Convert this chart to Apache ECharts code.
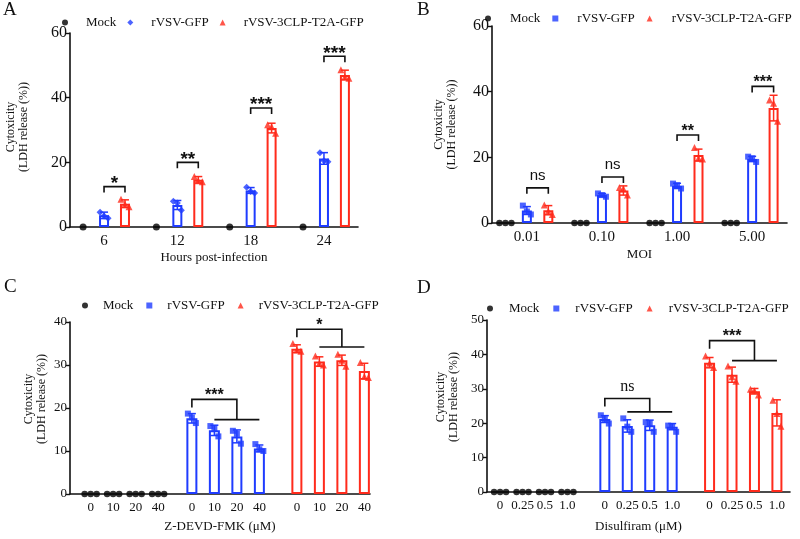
<!DOCTYPE html>
<html>
<head>
<meta charset="utf-8">
<script src="https://cdn.jsdelivr.net/npm/echarts@6/dist/echarts.min.js"></script>
<style>
  html, body { margin: 0; background: #fff; }
  #chart { width: 800px; height: 539px; }
</style>
</head>
<body>
<div id="chart"></div>
<script>
  var BLUE = '#1f3cff', RED = '#ff2b1c';
  var SERIF = '"Liberation Serif", "Times New Roman", serif';
  var SANS = '"Liberation Sans", Arial, sans-serif';

  // A: hours post-infection
  var aHours = ['6', '12', '18', '24'];
  var aMockReps = [[0], [0], [0], [0]];
  var aGfpMean = [3.6, 6.8, 11.3, 21.2];
  var aGfpSd = [1.0, 1.4, 0.9, 1.8];
  var aGfpReps = [[4.6, 2.7, 3.4], [8.0, 5.2, 7.4], [12.3, 10.5, 11.0], [23.0, 20.2, 20.5]];
  var aClpMean = [7.2, 14.6, 30.6, 47.0];
  var aClpSd = [1.2, 1.0, 1.5, 1.5];
  var aClpReps = [[8.6, 6.3, 7.0], [15.6, 14.0, 14.3], [31.6, 29.0, 31.0], [48.6, 46.0, 46.5]];
  var aSigText = ['*', '**', '***', '***'];
  var aSigY = [12.5, 20.0, 36.8, 52.8];

  // B: MOI
  var bMoi = ['0.01', '0.10', '1.00', '5.00'];
  var bMockReps = [[0, 0, 0], [0, 0, 0], [0, 0, 0], [0, 0, 0]];
  var bGfpMean = [3.8, 8.5, 11.3, 19.5];
  var bGfpSd = [1.2, 0.5, 0.8, 0.8];
  var bGfpReps = [[5.3, 2.6, 3.5], [9.0, 8.0, 8.5], [12.0, 10.5, 11.5], [20.2, 18.6, 19.7]];
  var bClpMean = [3.9, 9.9, 20.7, 35.0];
  var bClpSd = [1.4, 1.4, 1.8, 3.9];
  var bClpReps = [[5.5, 2.6, 3.6], [10.8, 8.5, 10.4], [23.0, 19.5, 19.7], [37.5, 31.0, 36.5]];
  var bSigText = ['ns', 'ns', '**', '***'];
  var bSigY = [10.7, 14.0, 26.8, 41.6];

  // C: Z-DEVD-FMK dose
  var cDose = ['0', '10', '20', '40'];
  var cMockReps = [[0, 0, 0], [0, 0, 0], [0, 0, 0], [0, 0, 0]];
  var cGfpMean = [17.6, 14.8, 13.4, 10.6];
  var cGfpSd = [1.1, 1.2, 1.5, 0.8];
  var cGfpReps = [[18.7, 16.5, 17.8], [15.8, 13.4, 15.3], [14.7, 11.7, 14.0], [11.6, 10.0, 10.4]];
  var cClpMean = [33.8, 30.8, 31.1, 28.6];
  var cClpSd = [0.9, 1.1, 1.2, 1.8];
  var cClpReps = [[35.0, 33.2, 33.5], [32.1, 30.0, 30.4], [32.5, 29.7, 31.1], [30.6, 27.1, 27.3]];
  var cSigText = ['***', '*'];
  var cSigTop = [22.0, 38.3];
  var cSigLow = [17.3, 34.2];

  // D: Disulfiram dose
  var dDose = ['0', '0.25', '0.5', '1.0'];
  var dMockReps = [[0, 0, 0], [0, 0, 0], [0, 0, 0], [0, 0, 0]];
  var dGfpMean = [21.2, 19.2, 19.4, 19.0];
  var dGfpSd = [1.0, 1.8, 1.5, 0.9];
  var dGfpReps = [[22.3, 19.9, 21.2], [21.4, 17.5, 19.0], [20.3, 17.5, 20.0], [19.3, 17.5, 19.0]];
  var dClpMean = [37.6, 34.1, 29.3, 23.0];
  var dClpSd = [1.5, 2.2, 0.8, 3.8];
  var dClpReps = [[39.5, 36.2, 37.4], [36.6, 32.2, 33.5], [29.9, 28.2, 29.4], [26.7, 19.1, 22.8]];
  var dSigText = ['ns', '***'];
  var dSigTop = [27.2, 44.0];
  var dSigLow = [23.3, 38.2];

  var panels = [
    { letter: 'A', cats: aHours, mock: aMockReps, gfpMean: aGfpMean, gfpSd: aGfpSd, gfpReps: aGfpReps,
      clpMean: aClpMean, clpSd: aClpSd, clpReps: aClpReps, sigText: aSigText, sigY: aSigY,
      xName: 'Hours post-infection', yMax: 60, yStep: 20, gfpIcon: 'diamond',
      n: 55, mockAt: [2, 14], gfpAt: [6, 14], clpAt: [10, 14], labelAll: false,
      grid: { left: 70, top: 33, width: 288, height: 194 }, big: true, barW: 10,
      nameGap: 24, yNameGap: 40, yNamePad: [0, 0, 0, 6], legend: { left: 62, top: 16, pad: 13, gap: 11 },
      letterPos: [3, 1], starSize: 19, nsFont: '15px ' + SANS },
    { letter: 'B', cats: bMoi, mock: bMockReps, gfpMean: bGfpMean, gfpSd: bGfpSd, gfpReps: bGfpReps,
      clpMean: bClpMean, clpSd: bClpSd, clpReps: bClpReps, sigText: bSigText, sigY: bSigY,
      xName: 'MOI', yMax: 60, yStep: 20, gfpIcon: 'rect',
      n: 55, mockAt: [2, 14], gfpAt: [6, 14], clpAt: [10, 14], labelAll: false,
      grid: { left: 492, top: 26, width: 295, height: 197 }, big: true, barW: 10,
      nameGap: 25, yNameGap: 34, yNamePad: [0, 0, 0, 0], legend: { left: 485, top: 12, pad: 14, gap: 12 },
      letterPos: [417, 1], starSize: 16, nsFont: '15px ' + SANS },
    { letter: 'C', cats: cDose, mock: cMockReps, gfpMean: cGfpMean, gfpSd: cGfpSd, gfpReps: cGfpReps,
      clpMean: cClpMean, clpSd: cClpSd, clpReps: cClpReps, sigText: cSigText, sigTop: cSigTop, sigLow: cSigLow,
      xName: 'Z-DEVD-FMK (\u03bcM)', yMax: 40, yStep: 10, gfpIcon: 'rect',
      n: 80, mockAt: [5, 6], gfpAt: [32, 6], clpAt: [60, 6], labelAll: true,
      grid: { left: 70, top: 322, width: 300, height: 172 }, big: false, barW: 11,
      nameGap: 26, yNameGap: 22, yNamePad: [0, 0, 0, 18], legend: { left: 82, top: 299, pad: 10, gap: 13 },
      letterPos: [4, 278], starSize: 16, nsFont: '15px ' + SANS },
    { letter: 'D', cats: dDose, mock: dMockReps, gfpMean: dGfpMean, gfpSd: dGfpSd, gfpReps: dGfpReps,
      clpMean: dClpMean, clpSd: dClpSd, clpReps: dClpReps, sigText: dSigText, sigTop: dSigTop, sigLow: dSigLow,
      xName: 'Disulfiram (\u03bcM)', yMax: 50, yStep: 10, gfpIcon: 'rect',
      n: 81, mockAt: [3, 6], gfpAt: [31, 6], clpAt: [59, 6], labelAll: true,
      grid: { left: 487, top: 320, width: 303, height: 172 }, big: false, barW: 11,
      nameGap: 28, yNameGap: 27, yNamePad: [0, 0, 0, 18], legend: { left: 487, top: 302, pad: 11, gap: 14 },
      letterPos: [417, 279], starSize: 16, nsFont: '16px ' + SERIF }
  ];

  var JITTER = [-4, 4, 0];
  var MOCK_SPREAD = [-6, 0, 6];

  function slotsOf(at) {
    var r = [];
    for (var k = 0; k < 4; k++) r.push(at[0] + at[1] * k);
    return r;
  }

  function barData(n, slots, vals) {
    var arr = [];
    for (var i = 0; i < n; i++) arr.push('-');
    slots.forEach(function (s, k) { arr[s] = vals[k]; });
    return arr;
  }

  function repPoints(slots, reps, spread) {
    var out = [];
    slots.forEach(function (s, k) {
      reps[k].forEach(function (v, j) {
        var off = reps[k].length === 1 ? 0 : spread[j];
        out.push({ value: [s, v], symbolOffset: [off, 0] });
      });
    });
    return out;
  }

  function errorBar(color) {
    return function (params, api) {
      var x = api.value(0), m = api.value(1), s = api.value(2);
      var t = api.coord([x, m + s]), b = api.coord([x, m - s]);
      var st = { stroke: color, lineWidth: 1.5 };
      return { type: 'group', children: [
        { type: 'line', shape: { x1: t[0], y1: t[1], x2: b[0], y2: b[1] }, style: st },
        { type: 'line', shape: { x1: t[0] - 4, y1: t[1], x2: t[0] + 4, y2: t[1] }, style: st },
        { type: 'line', shape: { x1: b[0] - 4, y1: b[1], x2: b[0] + 4, y2: b[1] }, style: st }
      ] };
    };
  }

  // significance text: asterisks sit high in their em box, so shift them down a bit
  function sigLabel(x, yLine, text, P) {
    var isNs = text === 'ns';
    var font = isNs ? P.nsFont : 'bold ' + P.starSize + 'px ' + SANS;
    var y = isNs ? yLine - 12 : yLine - 8 + 0.27 * P.starSize;
    return { type: 'text', x: x, y: y,
      style: { text: text, font: font, fill: '#111', align: 'center', verticalAlign: 'middle',
               textAlign: 'center', textVerticalAlign: 'middle' } };
  }

  function pairBracket(P) {
    return function (params, api) {
      var l = api.coord([api.value(0), api.value(1)]);
      var r = api.coord([api.value(2), api.value(1)]);
      return { type: 'group', children: [
        { type: 'polyline', shape: { points: [[l[0], l[1] + 6], l, r, [r[0], r[1] + 6]] },
          style: { stroke: '#111', lineWidth: 1.6, fill: null } },
        sigLabel((l[0] + r[0]) / 2, l[1], P.sigText[params.dataIndex], P)
      ] };
    };
  }

  function groupBracket(P) {
    return function (params, api) {
      var p0 = api.coord([api.value(0), api.value(1)]);
      var p2 = api.coord([api.value(2), api.value(1)]);
      var q2 = api.coord([api.value(2), api.value(3)]);
      var q1 = api.coord([api.value(4), api.value(3)]);
      var q3 = api.coord([api.value(5), api.value(3)]);
      var st = { stroke: '#111', lineWidth: 1.6, fill: null };
      return { type: 'group', children: [
        { type: 'polyline', shape: { points: [[p0[0], p0[1] + 8], p0, p2, q2] }, style: st },
        { type: 'line', shape: { x1: q1[0], y1: q1[1], x2: q3[0], y2: q3[1] }, style: st },
        sigLabel((p0[0] + p2[0]) / 2, p0[1], P.sigText[params.dataIndex], P)
      ] };
    };
  }

  var option = { animation: false, backgroundColor: '#fff', grid: [], xAxis: [], yAxis: [], series: [], legend: [], graphic: [] };

  panels.forEach(function (P, i) {
    var mockSlots = slotsOf(P.mockAt), gfpSlots = slotsOf(P.gfpAt), clpSlots = slotsOf(P.clpAt);
    var labels = [];
    for (var s = 0; s < P.n; s++) labels.push('');
    var labelSlots = P.labelAll ? mockSlots.concat(gfpSlots, clpSlots) : gfpSlots;
    labelSlots.forEach(function (sl, k) { labels[sl] = P.cats[k % 4]; });
    var ids = labels.map(function (_, k) { return 's' + k; });
    var hasLabel = function (idx) { return labels[idx] !== ''; };

    option.grid.push(P.grid);
    option.xAxis.push({
      type: 'category', gridIndex: i, data: ids,
      axisLine: { lineStyle: { color: '#111', width: 1.6 } },
      axisTick: { alignWithLabel: true, interval: hasLabel, length: 4, lineStyle: { color: '#111', width: 1.4 } },
      axisLabel: { interval: hasLabel, formatter: function (v, idx) { return labels[idx]; },
        color: '#111', fontFamily: SERIF, fontSize: P.big ? 15 : 13, margin: 7 },
      name: P.xName, nameLocation: 'middle', nameGap: P.nameGap,
      nameTextStyle: { color: '#111', fontFamily: SERIF, fontSize: 13 }
    });
    option.yAxis.push({
      type: 'value', gridIndex: i, min: 0, max: P.yMax, interval: P.yStep,
      axisLine: { show: true, lineStyle: { color: '#111', width: 1.6 } },
      axisTick: { show: true, length: 4, lineStyle: { color: '#111', width: 1.4 } },
      splitLine: { show: false },
      axisLabel: { color: '#111', fontFamily: SERIF, fontSize: P.big ? 16 : 13, margin: 3 },
      name: 'Cytoxicity\n(LDH release (%))', nameLocation: 'middle', nameRotate: 90, nameGap: P.yNameGap,
      nameTextStyle: { color: '#111', fontFamily: SERIF, fontSize: 12, lineHeight: 13, padding: P.yNamePad }
    });

    function withAx(o) { o.xAxisIndex = i; o.yAxisIndex = i; return o; }

    option.series.push(withAx({ type: 'bar', name: 'gfp bar ' + P.letter, data: barData(P.n, gfpSlots, P.gfpMean),
      barWidth: P.barW, barGap: '-100%', z: 2, silent: true,
      itemStyle: { color: '#fff', borderColor: BLUE, borderWidth: 2 } }));
    option.series.push(withAx({ type: 'bar', name: 'clp bar ' + P.letter, data: barData(P.n, clpSlots, P.clpMean),
      barWidth: P.barW, barGap: '-100%', z: 2, silent: true,
      itemStyle: { color: '#fff', borderColor: RED, borderWidth: 2 } }));

    option.series.push(withAx({ type: 'custom', renderItem: errorBar(BLUE), z: 3, silent: true,
      encode: { x: 0, y: 1 }, data: gfpSlots.map(function (sl, k) { return [sl, P.gfpMean[k], P.gfpSd[k]]; }) }));
    option.series.push(withAx({ type: 'custom', renderItem: errorBar(RED), z: 3, silent: true,
      encode: { x: 0, y: 1 }, data: clpSlots.map(function (sl, k) { return [sl, P.clpMean[k], P.clpSd[k]]; }) }));

    option.series.push(withAx({ type: 'scatter', name: 'Mock', symbol: 'circle', symbolSize: P.letter === 'A' ? 7 : 6.5,
      itemStyle: { color: '#000' }, z: 4, data: repPoints(mockSlots, P.mock, MOCK_SPREAD) }));
    option.series.push(withAx({ type: 'scatter', name: 'rVSV-GFP', symbol: P.gfpIcon, symbolSize: P.gfpIcon === 'diamond' ? 7 : 6,
      itemStyle: { color: BLUE }, z: 4, data: repPoints(gfpSlots, P.gfpReps, JITTER) }));
    option.series.push(withAx({ type: 'scatter', name: 'rVSV-3CLP-T2A-GFP', symbol: 'triangle', symbolSize: 7,
      itemStyle: { color: RED }, z: 4, data: repPoints(clpSlots, P.clpReps, JITTER) }));

    if (P.sigY) {
      option.series.push(withAx({ type: 'custom', renderItem: pairBracket(P), z: 5, silent: true,
        encode: { x: 0, y: 1 }, data: gfpSlots.map(function (sl, k) { return [sl, P.sigY[k], clpSlots[k]]; }) }));
    } else {
      option.series.push(withAx({ type: 'custom', renderItem: groupBracket(P), z: 5, silent: true,
        encode: { x: 0, y: 1 }, data: [
          [gfpSlots[0], P.sigTop[0], gfpSlots[2], P.sigLow[0], gfpSlots[1], gfpSlots[3]],
          [clpSlots[0], P.sigTop[1], clpSlots[2], P.sigLow[1], clpSlots[1], clpSlots[3]]
        ] }));
    }

    option.legend.push({
      left: P.legend.left, top: P.legend.top, width: 800 - P.legend.left, padding: 0, selectedMode: false,
      itemWidth: 6, itemHeight: 6, itemGap: P.legend.gap,
      textStyle: { color: '#111', fontFamily: SERIF, fontSize: 13, padding: [0, 0, 0, P.legend.pad] },
      data: [
        { name: 'Mock', icon: 'circle', itemStyle: { color: '#000' } },
        { name: 'rVSV-GFP', icon: P.gfpIcon, itemStyle: { color: BLUE } },
        { name: 'rVSV-3CLP-T2A-GFP', icon: 'triangle', itemStyle: { color: RED } }
      ]
    });

    option.graphic.push({ type: 'text', left: P.letterPos[0], top: P.letterPos[1],
      style: { text: P.letter, font: '19px ' + SERIF, fill: '#111' } });
  });

  var chart = echarts.init(document.getElementById('chart'));
  chart.setOption(option);
</script>
</body>
</html>
